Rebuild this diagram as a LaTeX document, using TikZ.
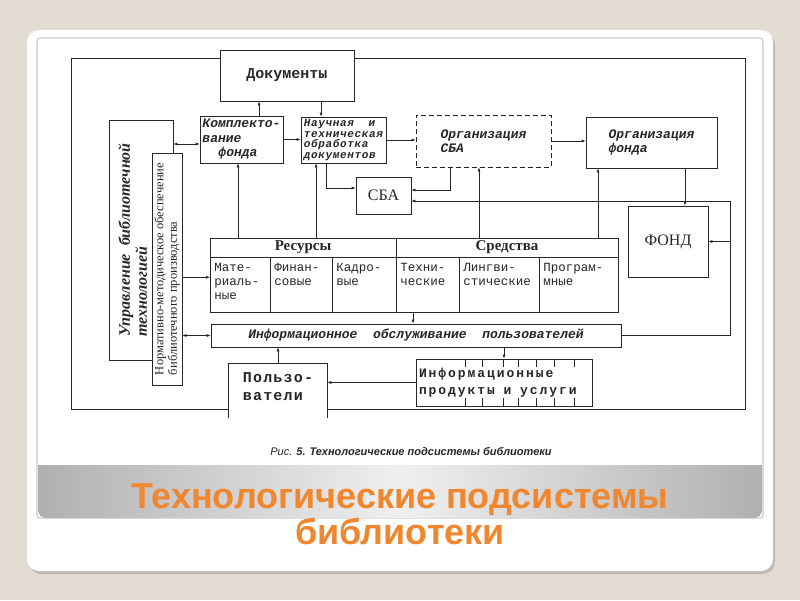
\documentclass[tikz,border=0pt]{standalone}
\usepackage{fontspec}
\setmainfont{Liberation Serif}
\newfontfamily\typew{Liberation Mono}
\newfontfamily\sanss{Liberation Sans}
\usetikzlibrary{arrows.meta,shadows}

\definecolor{slidebg}{RGB}{226,220,210}
\definecolor{titleorange}{RGB}{240,134,46}

\begin{document}
\begin{tikzpicture}[x=1pt, y=-1pt, line width=0.6pt, color=black!85,
      every node/.append style={inner sep=2pt, align=left},
      arr/.style={-{Latex[length=4pt,width=3pt]}},
      arr2/.style={{Latex[length=4pt,width=3pt]}-{Latex[length=4pt,width=3pt]}}]
    \tikzstyle{box} = [draw, rectangle]
    \tikzstyle{ital} = [font=\typew\bfseries\itshape\fontsize{13}{14.5}\selectfont]
    \tikzstyle{cell} = [draw, rectangle, inner sep=4pt, minimum height=55pt,
      font=\typew\fontsize{12.5}{14}\selectfont]
    \useasboundingbox (0,0) rectangle (800,600);
    % slide
    \fill[slidebg] (0,0) rectangle (800,600);
    \fill[white, rounded corners=12pt,
      drop shadow={shadow xshift=2pt, shadow yshift=-3pt, opacity=0.35}] (27,30) rectangle (773,571);
    \draw[gray!40, line width=1.2pt, rounded corners=3pt] (37,38) rectangle (763,518);
    \shade[left color=gray!62, right color=gray!62, middle color=gray!12]
      (38,465) -- (762,465) [rounded corners=8pt] -- (762,518) -- (38,518) [sharp corners] -- cycle;
    \node (title1) [anchor=base, text=titleorange, font=\sanss\bfseries\fontsize{36}{40}\selectfont]
      at (400,508) {Технологические подсистемы};
    \node (title2) [anchor=base, text=titleorange, font=\sanss\bfseries\fontsize{36}{40}\selectfont]
      at (400,544) {библиотеки};
    \node (capt) [anchor=base, font=\sanss\itshape\fontsize{11}{13}\selectfont]
      at (411,455) {Рис. {\bfseries 5. Технологические подсистемы библиотеки}};

    % blocks
    \node (doc) [box, minimum width=134pt, minimum height=51pt,
      font=\typew\bfseries\fontsize{15}{17}\selectfont] at (287,75.5) {Документы};
    \node (komp) [box, ital, minimum width=83pt, minimum height=47pt] at (241.5,139.5)
      {Комплекто-\\вание\\\hspace*{16pt}фонда};
    \node (nauch) [box, ital, minimum width=85pt, minimum height=46pt,
      font=\typew\bfseries\itshape\fontsize{11}{10.5}\selectfont\addfontfeature{LetterSpace=6}]
      at (343.5,140) {Научная~ и\\техническая\\обработка\\документов};
    \node (orgsba) [box, ital, dash pattern=on 5pt off 3pt, minimum width=135pt, minimum height=52pt]
      at (483.5,141) {Организация\\СБА};
    \node (orgfond) [box, ital, minimum width=131pt, minimum height=51pt] at (651.5,142.5)
      {Организация\\фонда};
    \node (sba) [box, minimum width=55pt, minimum height=37pt, font=\fontsize{16}{18}\selectfont]
      at (383.5,195.5) {СБА};
    \node (fond) [box, minimum width=80pt, minimum height=71pt, font=\fontsize{16}{18}\selectfont]
      at (668,241.5) {ФОНД};
    \node (upr) [box, rotate=90, minimum width=240pt, minimum height=64pt,
      font=\bfseries\itshape\fontsize{16}{17}\selectfont] at (141,240)
      {Управление~ библиотечной\\технологией\\\mbox{}};
    \node (norm) [box, fill=white, rotate=90, minimum width=232pt, minimum height=30pt,
      font=\fontsize{12.5}{13.5}\selectfont] at (167,269)
      {Нормативно-методическое обеспечение\\библиотечного производства};

    % resources and means
    \node (res) [box, minimum width=186pt, minimum height=19pt, font=\bfseries\fontsize{15}{16}\selectfont]
      at (303,247.5) {Ресурсы};
    \node (sred) [box, minimum width=222pt, minimum height=19pt, font=\bfseries\fontsize{15}{16}\selectfont]
      at (507,247.5) {Средства};
    \foreach \nm/\xl/\cw/\txt in {c1/210/60/{Мате-\\риаль-\\ные}, c2/270/62/{Финан-\\совые},
        c3/332/64/{Кадро-\\вые}, c4/396/63/{Техни-\\ческие}, c5/459/80/{Лингви-\\стические},
        c6/539/79/{Програм-\\мные}}
      \node (\nm) [cell, minimum width=\cw pt, anchor=north west] at (\xl,257)
        {\parbox[c][44pt][t]{\dimexpr\cw pt-8pt\relax}{\txt}};

    \node (infobs) [box, ital, minimum width=410pt, minimum height=23pt] at (416,335.5)
      {Информационное~ обслуживание~ пользователей};
    \node (prod) [box, minimum width=176pt, minimum height=47pt, text width=170pt,
      font=\typew\bfseries\fontsize{13}{17}\selectfont\addfontfeature{LetterSpace=15}]
      at (504,382.5) {Информационные\\продукты~ и~ услуги};
    \foreach \dx in {50,67,88,103,121,139,159} {
      \draw ([xshift=\dx pt]prod.north west) -- ++(0,8);
      \draw ([xshift=\dx pt]prod.south west) -- ++(0,-8);
    }
    \node (polz) [minimum width=98pt, minimum height=45pt,
      font=\typew\bfseries\fontsize{15}{18}\selectfont\addfontfeature{LetterSpace=8}]
      at (278,386.5) {Пользо-\\ватели};
    \draw ([yshift=-9pt]polz.south west) -- (polz.north west) -- (polz.north east)
      -- ([yshift=-9pt]polz.south east);

    % outer loop
    \coordinate (frameL) at (71,58);
    \coordinate (frameR) at (745,58);
    \draw ([yshift=17.5pt]doc.west) -- (frameL) |- (polz.south west);
    \draw ([yshift=17.5pt]doc.east) -- (frameR) |- (polz.south east);

    % connectors
    \draw[arr] ([xshift=17.5pt]komp.north) -- ([xshift=17.5pt]komp.north |- doc.south);
    \draw[arr] ([xshift=-22.5pt]nauch.north |- doc.south) -- ([xshift=-22.5pt]nauch.north);
    \draw[arr] (komp.east) -- (komp.east -| nauch.west);
    \draw[arr] (nauch.east) -- (nauch.east -| orgsba.west);
    \draw[arr] (orgsba.east) -- (orgsba.east -| orgfond.west);
    \draw[arr] ([xshift=-17.5pt]nauch.south) |- ([yshift=7.5pt]sba.west);
    \draw[arr] ([xshift=-33.5pt]orgsba.south) |- ([yshift=5.5pt]sba.east);
    \draw[arr] ([xshift=33.5pt]orgfond.south) -- ([xshift=33.5pt]orgfond.south |- fond.north);
    \coordinate (bend) at ([xshift=22pt]fond.east |- infobs.east);
    \draw[arr] (infobs.east) -- (bend) |- ([yshift=-5.5pt]sba.east);
    \draw[arr] (bend |- fond.east) -- (fond.east);
    \draw[arr] ([xshift=-3.5pt]komp.south |- res.north) -- ([xshift=-3.5pt]komp.south);
    \draw[arr] ([xshift=-27.5pt]nauch.south |- res.north) -- ([xshift=-27.5pt]nauch.south);
    \draw[arr] ([xshift=-4.5pt]orgsba.south |- sred.north) -- ([xshift=-4.5pt]orgsba.south);
    \draw[arr] ([xshift=-53.5pt]orgfond.south |- sred.north) -- ([xshift=-53.5pt]orgfond.south);
    \draw[arr] ([xshift=17pt]c4.south west) -- ([xshift=17pt]c4.south west |- infobs.north);
    \draw[arr] (prod.north |- infobs.south) -- (prod.north);
    \draw[arr] (prod.west) -- (prod.west -| polz.east);
    \draw[arr] (polz.north) -- (polz.north |- infobs.south);
    \draw[arr2] (norm.south |- infobs.west) -- (infobs.west);
    \draw[arr] ([yshift=7.5pt]c1.west -| norm.south) -- ([yshift=7.5pt]c1.west);
    \draw[arr2] ([yshift=-4.5pt]komp.west -| upr.south) -- ([yshift=-4.5pt]komp.west);
  \end{tikzpicture}
\end{document}
